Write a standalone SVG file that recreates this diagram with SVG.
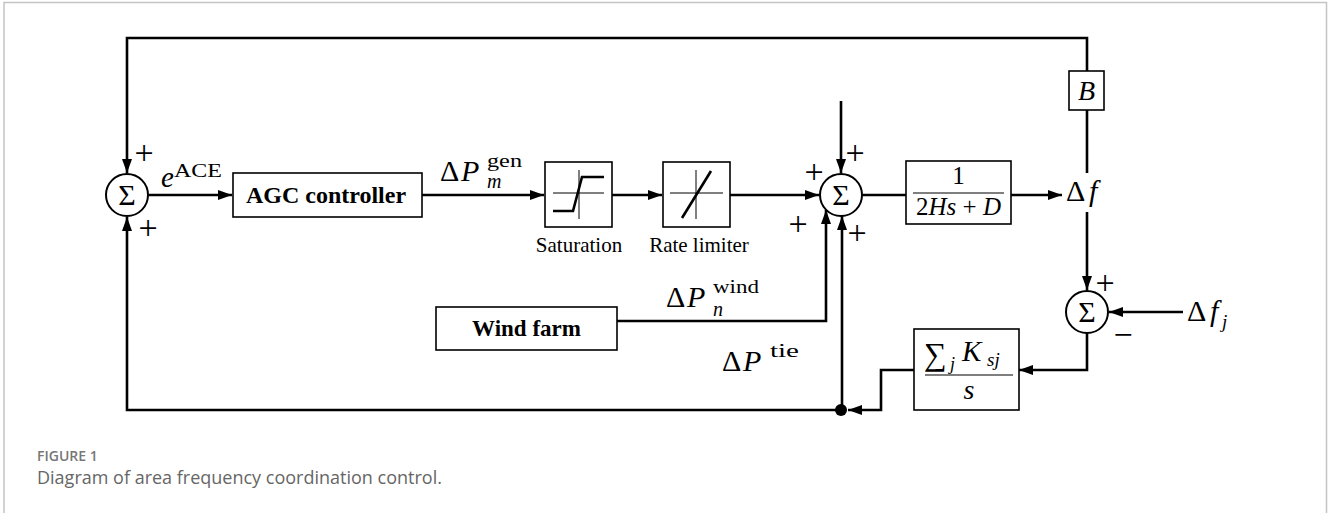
<svg xmlns="http://www.w3.org/2000/svg" width="1328" height="513" viewBox="0 0 1328 513">
<style>
.frame{fill:none;stroke:#c4c4c4;stroke-width:1.5}
.w{fill:none;stroke:#000;stroke-width:2.6}
.box{fill:#fff;stroke:#000;stroke-width:1.6}
.sum{fill:#fff;stroke:#000;stroke-width:2}
.thin{fill:none;stroke:#000;stroke-width:1}
.cur{fill:none;stroke:#000;stroke-width:2.6}
.t{font-family:"Liberation Serif","DejaVu Serif",serif;fill:#000}
.b{font-weight:bold}
.i{font-style:italic}
.sig{font-family:"Liberation Serif","DejaVu Serif",serif;font-size:30px;text-anchor:middle}
.pm{font-family:"Liberation Serif","DejaVu Serif",serif;font-size:34px}
.cap1{font-family:"Open Sans","Noto Sans",sans-serif;font-size:14px;font-weight:600;fill:#777}
.cap2{font-family:"Open Sans","Noto Sans",sans-serif;font-size:18px;fill:#666}
</style>
<defs>
<marker id="ah" viewBox="0 0 14 10" refX="14" refY="5" markerWidth="14" markerHeight="10" markerUnits="userSpaceOnUse" orient="auto">
<path d="M0,0 L14,5 L0,10 z" fill="#000"/>
</marker>
</defs>
<rect width="1328" height="513" fill="#fff"/>
<path class="frame" d="M4,513 L4,2.5 L1326.5,2.5 L1326.5,513"/>

<g id="connectors">
<path class="w" d="M149,195 L232,195" marker-end="url(#ah)"/>
<path class="w" d="M422,195 L544,195" marker-end="url(#ah)"/>
<path class="w" d="M612,195 L662,195" marker-end="url(#ah)"/>
<path class="w" d="M730,195 L819,195" marker-end="url(#ah)"/>
<path class="w" d="M841,101 L841,173" marker-end="url(#ah)"/>
<path class="w" d="M617,321 L826,321 L826,210" marker-end="url(#ah)"/>
<path class="w" d="M842,410 L842,216" marker-end="url(#ah)"/>
<path class="w" d="M862,195 L906,195"/>
<path class="w" d="M1011,195 L1062,195" marker-end="url(#ah)"/>
<path class="w" d="M1087,173 L1087,110"/>
<path class="w" d="M1087,71 L1087,38 L127,38 L127,173" marker-end="url(#ah)"/>
<path class="w" d="M1087,212 L1087,290" marker-end="url(#ah)"/>
<path class="w" d="M1183,312 L1109,312" marker-end="url(#ah)"/>
<path class="w" d="M1087,333 L1087,370 L1019,370" marker-end="url(#ah)"/>
<path class="w" d="M914,370 L881,370 L881,410 L848,410" marker-end="url(#ah)"/>
<path class="w" d="M841,410 L127,410 L127,217" marker-end="url(#ah)"/>
<circle cx="841" cy="410" r="6" fill="#000"/>
</g>

<g id="sum1">
<circle class="sum" cx="127" cy="195" r="21"/>
<text class="sig" x="127" y="205">Σ</text>
<text class="pm" x="134.5" y="164">+</text>
<text class="pm" x="138.5" y="239">+</text>
<text class="t i" x="161" y="187" font-size="29">e</text>
<text class="t" x="174" y="177" font-size="19" textLength="48" lengthAdjust="spacingAndGlyphs">ACE</text>
</g>

<g id="agc">
<rect class="box" x="233" y="173" width="189" height="44"/>
<text class="t b" x="326" y="203" font-size="24" text-anchor="middle">AGC controller</text>
</g>

<g id="label-pgen">
<text class="t" x="440" y="181" font-size="30">Δ</text>
<text class="t i" x="461" y="181" font-size="30">P</text>
<text class="t" x="487" y="167" font-size="19" textLength="35" lengthAdjust="spacingAndGlyphs">gen</text>
<text class="t i" x="487" y="188" font-size="20">m</text>
</g>

<g id="saturation">
<rect class="box" x="545" y="162" width="67" height="65"/>
<path class="thin" d="M553,193 L604,193 M579,170 L579,219"/>
<path class="cur" d="M553,211 L573,211 L582,177 L604,177"/>
<text class="t" x="579" y="252" font-size="21" text-anchor="middle">Saturation</text>
</g>

<g id="rate-limiter">
<rect class="box" x="663" y="162" width="67" height="65"/>
<path class="thin" d="M670,193 L723,193 M696,170 L696,219"/>
<path class="cur" d="M682,218 L711,171"/>
<text class="t" x="699" y="252" font-size="21" text-anchor="middle">Rate limiter</text>
</g>

<g id="sum2">
<circle class="sum" cx="841" cy="195" r="21"/>
<text class="sig" x="841" y="205">Σ</text>
<text class="pm" x="845.5" y="164">+</text>
<text class="pm" x="804.5" y="183">+</text>
<text class="pm" x="788.5" y="235">+</text>
<text class="pm" x="847.5" y="244">+</text>
</g>

<g id="wind-farm">
<rect class="box" x="436" y="307" width="181" height="43"/>
<text class="t b" x="526.5" y="336" font-size="23" text-anchor="middle">Wind farm</text>
</g>

<g id="label-pwind">
<text class="t" x="666" y="307" font-size="30">Δ</text>
<text class="t i" x="687" y="307" font-size="30">P</text>
<text class="t" x="713" y="293" font-size="19" textLength="46" lengthAdjust="spacingAndGlyphs">wind</text>
<text class="t i" x="713" y="316" font-size="20">n</text>
</g>

<g id="label-ptie">
<text class="t" x="722" y="371" font-size="30">Δ</text>
<text class="t i" x="743" y="371" font-size="30">P</text>
<text class="t" x="770" y="357" font-size="19" textLength="29" lengthAdjust="spacingAndGlyphs">tie</text>
</g>

<g id="tf">
<rect class="box" x="906" y="161" width="105" height="63"/>
<text class="t" x="958.5" y="184" font-size="25" text-anchor="middle">1</text>
<line x1="913" y1="193" x2="1004" y2="193" stroke="#000" stroke-width="1.2"/>
<text class="t" x="958.5" y="215" font-size="25" text-anchor="middle">2<tspan class="i">Hs</tspan> + <tspan class="i">D</tspan></text>
</g>

<g id="label-df">
<text class="t" x="1066" y="201" font-size="30">Δ</text>
<text class="t i" x="1089" y="201" font-size="30">f</text>
</g>

<g id="gain-b">
<rect class="box" x="1069" y="71" width="35" height="39"/>
<text class="t i" x="1086.5" y="100" font-size="28" text-anchor="middle">B</text>
</g>

<g id="sum3">
<circle class="sum" cx="1087" cy="312" r="21"/>
<text class="sig" x="1087" y="322">Σ</text>
<text class="pm" x="1095.5" y="294">+</text>
<text class="pm" x="1113.5" y="346">−</text>
</g>

<g id="label-dfj">
<text class="t" x="1187" y="321" font-size="30">Δ</text>
<text class="t i" x="1210" y="321" font-size="30">f</text>
<text class="t i" x="1222" y="328" font-size="19">j</text>
</g>

<g id="tie-gain">
<rect class="box" x="914" y="329" width="105" height="81"/>
<text class="t" x="924" y="365" font-size="32">∑</text>
<text class="t i" x="950" y="370" font-size="18">j</text>
<text class="t i" x="962" y="361" font-size="29">K</text>
<text class="t i" x="987" y="366" font-size="19">sj</text>
<line x1="925" y1="375" x2="1013" y2="375" stroke="#000" stroke-width="1.2"/>
<text class="t i" x="969" y="399" font-size="28" text-anchor="middle">s</text>
</g>

<g id="caption">
<text class="cap1" x="37" y="461">FIGURE 1</text>
<text class="cap2" x="37" y="484">Diagram of area frequency coordination control.</text>
</g>
</svg>
